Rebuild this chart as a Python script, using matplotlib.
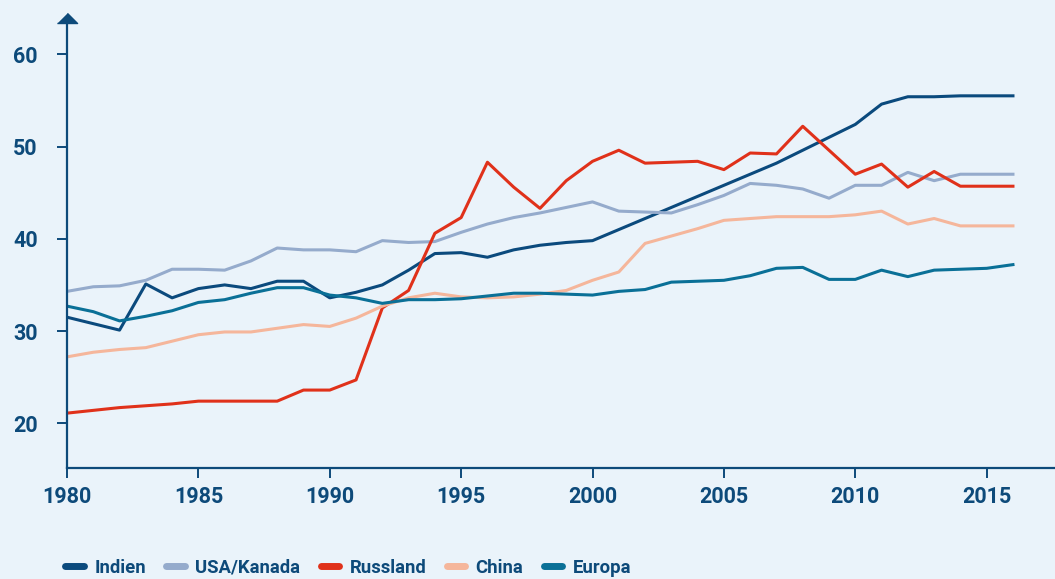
import matplotlib
matplotlib.use("Agg")
import matplotlib.pyplot as plt
from matplotlib.lines import Line2D

plt.rcParams['font.family'] = ['Roboto', 'DejaVu Sans']

years = list(range(1980, 2017))

indien = [31.5, 30.8, 30.1, 35.1, 33.6, 34.6, 35.0, 34.6, 35.4, 35.4,
          33.6, 34.2, 35.0, 36.6, 38.4, 38.5, 38.0, 38.8, 39.3, 39.6,
          39.8, 41.0, 42.2, 43.4, 44.6, 45.8, 47.0, 48.2, 49.6, 51.0,
          52.4, 54.6, 55.4, 55.4, 55.5, 55.5, 55.5]
usa_kanada = [34.3, 34.8, 34.9, 35.5, 36.7, 36.7, 36.6, 37.6, 39.0, 38.8,
              38.8, 38.6, 39.8, 39.6, 39.7, 40.7, 41.6, 42.3, 42.8, 43.4,
              44.0, 43.0, 42.9, 42.8, 43.7, 44.7, 46.0, 45.8, 45.4, 44.4,
              45.8, 45.8, 47.2, 46.3, 47.0, 47.0, 47.0]
russland = [21.1, 21.4, 21.7, 21.9, 22.1, 22.4, 22.4, 22.4, 22.4, 23.6,
            23.6, 24.7, 32.5, 34.4, 40.6, 42.3, 48.3, 45.6, 43.3, 46.3,
            48.4, 49.6, 48.2, 48.3, 48.4, 47.5, 49.3, 49.2, 52.2, 49.6,
            47.0, 48.1, 45.6, 47.3, 45.7, 45.7, 45.7]
china = [27.2, 27.7, 28.0, 28.2, 28.9, 29.6, 29.9, 29.9, 30.3, 30.7,
         30.5, 31.4, 32.7, 33.6, 34.1, 33.7, 33.6, 33.7, 34.0, 34.4,
         35.5, 36.4, 39.5, 40.3, 41.1, 42.0, 42.2, 42.4, 42.4, 42.4,
         42.6, 43.0, 41.6, 42.2, 41.4, 41.4, 41.4]
europa = [32.7, 32.1, 31.1, 31.6, 32.2, 33.1, 33.4, 34.1, 34.7, 34.7,
          33.9, 33.6, 33.0, 33.4, 33.4, 33.5, 33.8, 34.1, 34.1, 34.0,
          33.9, 34.3, 34.5, 35.3, 35.4, 35.5, 36.0, 36.8, 36.9, 35.6,
          35.6, 36.6, 35.9, 36.6, 36.7, 36.8, 37.2]

series = [
    ("Indien", indien, "#0b4a7d"),
    ("USA/Kanada", usa_kanada, "#95abcc"),
    ("Russland", russland, "#e0311a"),
    ("China", china, "#f5b69b"),
    ("Europa", europa, "#0a7097"),
]

bg = "#eaf3fa"
axis_col = "#0d4a7a"

fig = plt.figure(figsize=(10.55, 5.79), dpi=100, facecolor=bg)
ax = fig.add_axes([0.0635, 0.1912, 0.9365, 0.769])
ax.set_facecolor(bg)

for name, vals, col in series:
    ax.plot(years, vals, color=col, lw=2.2, label=name, solid_joinstyle="round")

ax.set_xlim(1980, 2017.6)
ax.set_ylim(15.12, 63.39)
ax.set_xticks(range(1980, 2016, 5))
ax.set_yticks([20, 30, 40, 50, 60])

for s in ["top", "right"]:
    ax.spines[s].set_visible(False)
for s in ["left", "bottom"]:
    ax.spines[s].set_color(axis_col)
    ax.spines[s].set_linewidth(1.6)

ax.tick_params(axis="both", colors=axis_col, width=1.4, length=7,
               labelsize=15.5)
ax.tick_params(axis="y", pad=14)
ax.tick_params(axis="x", pad=6)
for lab in ax.get_xticklabels() + ax.get_yticklabels():
    lab.set_fontweight("bold")

# arrow head on top of the y axis
ax.plot([0], [1.0], marker=[(-1, 0), (1, 0), (0, 1)], markersize=14.5,
        color=axis_col, transform=ax.transAxes, clip_on=False)

handles = [Line2D([0], [0], color=c, lw=5, solid_capstyle="round")
           for _, _, c in series]
leg = fig.legend(handles, [n for n, _, _ in series], loc="lower left",
                 bbox_to_anchor=(0.062, 0.004), ncol=5, frameon=False,
                 fontsize=13.3, handlelength=1.0, columnspacing=1.1,
                 handletextpad=0.57, labelcolor=axis_col,
                 borderpad=0, borderaxespad=0)
for t in leg.get_texts():
    t.set_fontweight("bold")

fig.savefig("out.png", dpi=100, facecolor=bg)
